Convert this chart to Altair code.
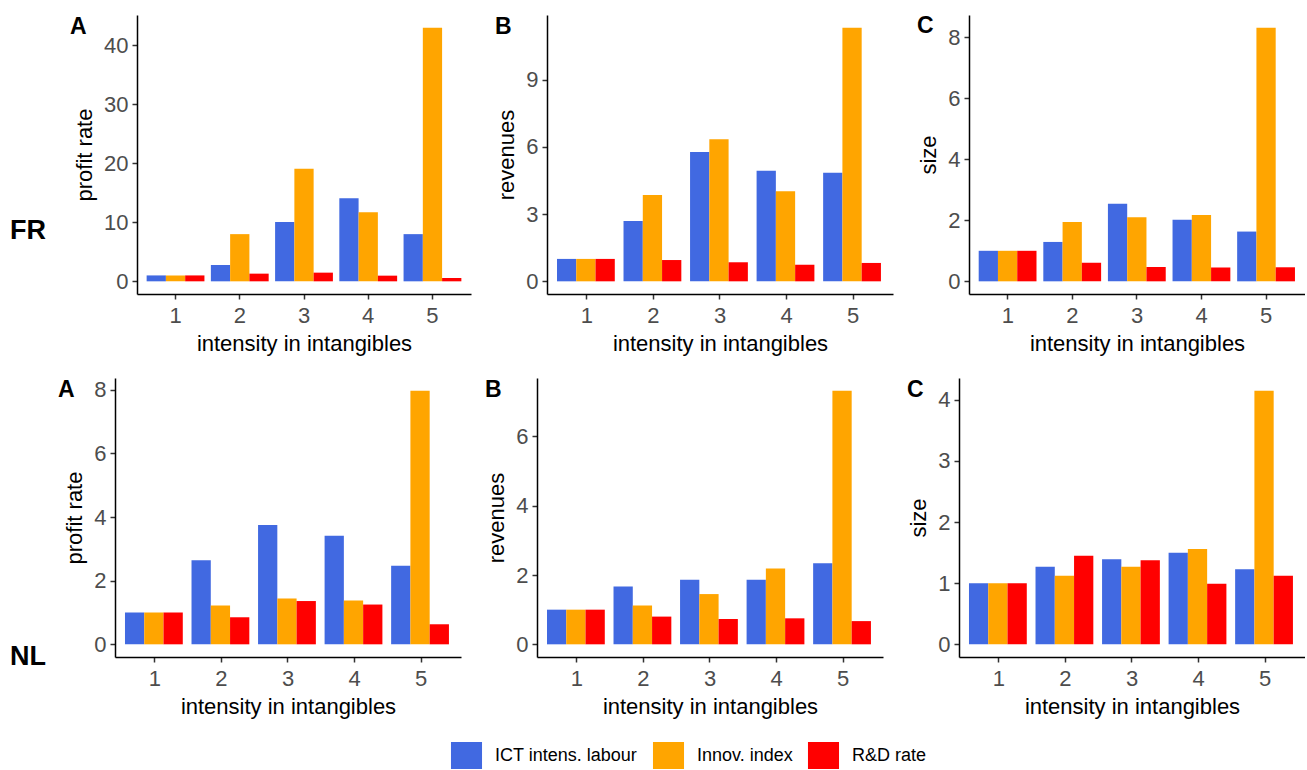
import altair as alt
import pandas as pd

groups = ["1", "2", "3", "4", "5"]
series = ["ICT intens. labour", "Innov. index", "R&D rate"]
colors = ["#4169E1", "#FFA500", "#FF0000"]

# FR
fr_profit_ict = [1.0, 2.77, 10.06, 14.07, 8.0]
fr_profit_innov = [1.0, 8.0, 19.1, 11.7, 43.0]
fr_profit_rd = [1.0, 1.3, 1.47, 0.96, 0.56]

fr_rev_ict = [1.0, 2.69, 5.77, 4.93, 4.84]
fr_rev_innov = [1.0, 3.85, 6.34, 4.02, 11.32]
fr_rev_rd = [1.0, 0.95, 0.85, 0.74, 0.82]

fr_size_ict = [1.0, 1.29, 2.54, 2.02, 1.63]
fr_size_innov = [1.0, 1.94, 2.10, 2.17, 8.31]
fr_size_rd = [1.0, 0.61, 0.47, 0.45, 0.46]

# NL
nl_profit_ict = [1.0, 2.64, 3.75, 3.41, 2.47]
nl_profit_innov = [1.0, 1.22, 1.44, 1.38, 7.97]
nl_profit_rd = [1.0, 0.85, 1.36, 1.25, 0.63]

nl_rev_ict = [1.0, 1.67, 1.86, 1.86, 2.34]
nl_rev_innov = [1.0, 1.12, 1.45, 2.19, 7.32]
nl_rev_rd = [1.0, 0.80, 0.73, 0.75, 0.67]

nl_size_ict = [1.0, 1.27, 1.39, 1.50, 1.23]
nl_size_innov = [1.0, 1.12, 1.27, 1.56, 4.15]
nl_size_rd = [1.0, 1.45, 1.375, 0.99, 1.12]

FONT = "Liberation Sans"
H = 279

legend = alt.Legend(
    title=None, orient="none", direction="horizontal",
    legendX=338, legendY=727,
    symbolType="M-1.15,-1H1.15V1H-1.15Z", symbolSize=729,
    symbolStrokeWidth=0, symbolOpacity=1,
    labelFontSize=18, labelFont=FONT, labelColor="black",
    labelOffset=15, columnPadding=14,
)


def panel(ict, innov, rd, ytitle, ticks, width, rstart, letter, ldx, ldy,
          row_label=None, rly=0):
    rows = []
    for s, vals in zip(series, [ict, innov, rd]):
        for g, v in zip(groups, vals):
            rows.append({"group": g, "series": s, "value": v})
    df = pd.DataFrame(rows)
    vmax = max(ict + innov + rd)
    dom = [-0.05 * vmax, 1.05 * vmax]
    if rstart > 0:
        xscale = alt.Scale(range=[rstart, width], paddingInner=0.1,
                           paddingOuter=0.15)
        yaxis = alt.Axis(title=ytitle, values=ticks, offset=-rstart)
    else:
        xscale = alt.Scale(paddingInner=0.1, paddingOuter=0.15)
        yaxis = alt.Axis(title=ytitle, values=ticks)
    bars = alt.Chart(df).mark_bar().encode(
        x=alt.X("group:N", sort=groups, scale=xscale,
                axis=alt.Axis(title="intensity in intangibles", labelAngle=0)),
        xOffset=alt.XOffset("series:N", sort=series,
                            scale=alt.Scale(paddingInner=0, paddingOuter=0)),
        y=alt.Y("value:Q", scale=alt.Scale(domain=dom, nice=False, zero=False),
                axis=yaxis),
        y2=alt.datum(0),
        color=alt.Color("series:N", sort=series,
                        scale=alt.Scale(domain=series, range=colors),
                        legend=legend),
    )
    layers = [bars]
    lab = alt.Chart(pd.DataFrame({"t": [letter]})).mark_text(
        font=FONT, fontSize=23, fontWeight="bold", align="left",
        baseline="alphabetic", color="black"
    ).encode(x=alt.value(ldx), y=alt.value(ldy), text="t:N")
    layers.append(lab)
    if row_label:
        rl = alt.Chart(pd.DataFrame({"t": [row_label]})).mark_text(
            font=FONT, fontSize=27, fontWeight="bold", align="left",
            baseline="alphabetic", color="black"
        ).encode(x=alt.value(-105), y=alt.value(rly), text="t:N")
        layers.append(rl)
    return alt.layer(*layers).properties(width=width, height=H)


views = [
    panel(fr_profit_ict, fr_profit_innov, fr_profit_rd, "profit rate",
          [0, 10, 20, 30, 40], 356, 22, "A", -45, 19, "FR", 224),
    panel(fr_rev_ict, fr_rev_innov, fr_rev_rd, "revenues",
          [0, 3, 6, 9], 356, 10, "B", -42, 19),
    panel(fr_size_ict, fr_size_innov, fr_size_rd, "size",
          [0, 2, 4, 6, 8], 346, 10, "C", -42, 18),
    panel(nl_profit_ict, nl_profit_innov, nl_profit_rd, "profit rate",
          [0, 2, 4, 6, 8], 346, 0, "A", -57, 19, "NL", 287),
    panel(nl_rev_ict, nl_rev_innov, nl_rev_rd, "revenues",
          [0, 2, 4, 6], 346, 0, "B", -52, 19),
    panel(nl_size_ict, nl_size_innov, nl_size_rd, "size",
          [0, 1, 2, 3, 4], 346, 0, "C", -52, 19),
]

chart = alt.concat(
    *views, columns=3, spacing={"row": 84, "column": 66},
    bounds="flush", align="none",
).properties(
    padding={"left": 10, "top": 15, "right": 0, "bottom": 0},
    background="white",
).configure_view(stroke=None).configure_axis(
    grid=False,
    domainColor="black", domainWidth=1.5,
    tickColor="#333333", tickSize=5, tickWidth=1.5,
    labelFont=FONT, labelFontSize=22, labelColor="#4D4D4D", labelPadding=4,
    titleFont=FONT, titleFontSize=22, titleFontWeight="normal",
    titleColor="black", titlePadding=7,
).configure_axisX(labelPadding=6)

chart.save("out.html", embed_options={"renderer": "svg", "actions": False})
